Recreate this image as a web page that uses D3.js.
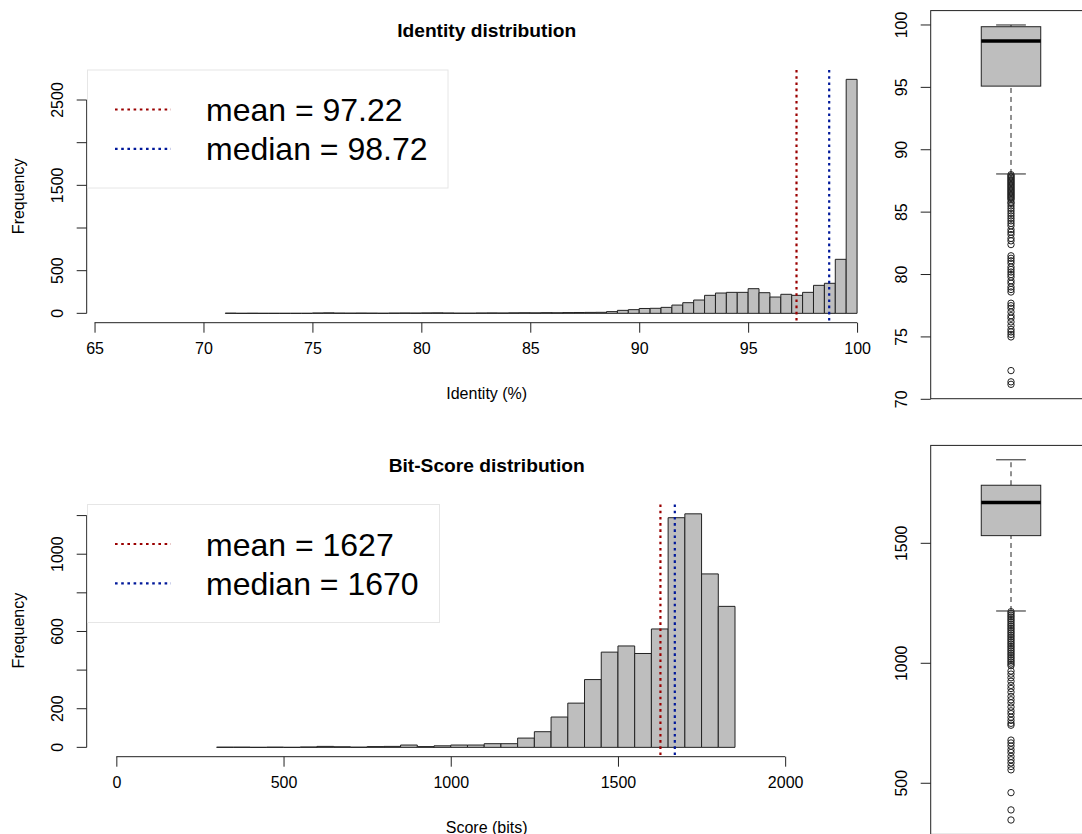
<!DOCTYPE html>
<html>
<head>
<meta charset="utf-8">
<script src="https://cdn.jsdelivr.net/npm/d3@7"></script>
<style>
body { margin: 0; background: #fff; }
svg { display: block; font-family: "Liberation Sans", Arial, Helvetica, sans-serif; }
</style>
</head>
<body>
<svg id="chart" width="1082" height="834"></svg>
<script>
// ---- data ----
// identity (%) histogram, 0.5 wide bins starting at 71
var identityBinStart = 71;
var identityBinWidth = 0.5;
var identityCounts = [2, 0, 1, 0, 0, 0, 0, 0,
    4, 6, 3, 2, 3, 2, 1, 3, 4, 3,
    5, 6, 4, 2, 2, 4, 5, 4, 6, 7,
    6, 8, 7, 9, 10, 11, 12,
    20, 35, 43, 57, 59, 70, 97, 125, 156, 211,
    238, 246, 246, 289, 242, 191, 223, 211, 246, 328,
    352, 633, 2742];
var identityXlim = [66, 100];
var identityXTicks = [65, 70, 75, 80, 85, 90, 95, 100];
var identityYTicks = [0, 500, 1000, 1500, 2000, 2500];
var identityYLabels = ["0", "500", "", "1500", "", "2500"];
var identityMean = 97.22;
var identityMedian = 98.72;
// whisker low, q1, median, q3, whisker high
var identityBox = [88.06, 95.1, 98.72, 99.86, 100];
var identityOutliers = [88.0, 87.9, 87.8, 87.7, 87.6, 87.5, 87.4, 87.3, 87.2, 87.1, 87.0,
    86.9, 86.8, 86.7, 86.6, 86.5, 86.4, 86.3, 86.2, 86.1, 86.0, 85.8, 85.7, 85.5, 85.3,
    85.1, 84.9, 84.7, 84.5, 84.3, 84.1, 83.9, 83.6, 83.4, 83.2, 82.9, 82.7, 82.4,
    81.5, 81.3, 81.1, 80.9, 80.6, 80.4, 80.2, 80.0, 79.8, 79.5, 79.3, 79.0, 78.8, 78.6,
    77.7, 77.5, 77.3, 77.0, 76.7, 76.5, 76.2, 75.9, 75.6, 75.4, 75.2, 75.0,
    72.3, 71.4, 71.2];
var identityBoxTicks = [70, 75, 80, 85, 90, 95, 100];

// bit-score histogram, 50 wide bins starting at 300
var scoreBinStart = 300;
var scoreBinWidth = 50;
var scoreCounts = [1, 1, 0, 1, 0, 2, 5, 3, 1, 4, 5, 12, 4, 8, 12, 12, 19, 19,
    48, 81, 157, 229, 351, 493, 525, 486, 613, 1189, 1209, 898, 730];
var scoreXlim = [0, 2215];
var scoreXTicks = [0, 500, 1000, 1500, 2000];
var scoreYTicks = [0, 200, 400, 600, 800, 1000, 1200];
var scoreYLabels = ["0", "200", "", "600", "", "1000", ""];
var scoreMean = 1627;
var scoreMedian = 1670;
var scoreBox = [1218, 1532, 1670, 1742, 1848];
var scoreOutliers = [1215, 1208, 1200, 1193, 1185, 1178, 1170, 1162, 1155, 1147, 1140,
    1132, 1125, 1117, 1110, 1102, 1095, 1087, 1080, 1072, 1065, 1057, 1050, 1042, 1035,
    1027, 1020, 1012, 1005, 997, 990, 968, 955, 940, 925, 908, 895, 880, 862, 848, 835,
    818, 802, 790, 775, 762, 750, 742, 680, 668, 655, 640, 628, 612, 598, 585, 570, 556,
    461, 389, 347];
var scoreBoxTicks = [500, 1000, 1500];

var meanColor = "#9a0000";
var medianColor = "#00189a";
var barFill = "#bebebe";
var ink = "#222";

// R style 4% range extension
function ext(lim) {
    var d = (lim[1] - lim[0]) * 0.04;
    return [lim[0] - d, lim[1] + d];
}

var svg = d3.select("#chart");
svg.append("rect").attr("width", 1082).attr("height", 834).attr("fill", "#fff");

function drawHist(o) {
    var g = svg.append("g");
    var x = d3.scaleLinear().domain(ext(o.xlim)).range([o.left, o.right]);
    var y = d3.scaleLinear().domain(ext([0, d3.max(o.counts)])).range([o.bottom, o.top]);

    // bars (paths so empty bins still leave a line)
    g.selectAll("path.bar").data(o.counts).enter().append("path")
        .attr("class", "bar")
        .attr("d", function (c, i) {
            var x0 = x(o.binStart + i * o.binWidth), x1 = x(o.binStart + (i + 1) * o.binWidth);
            return "M" + x0 + "," + y(0) + "V" + y(c) + "H" + x1 + "V" + y(0) + "Z";
        })
        .attr("fill", barFill).attr("stroke", ink).attr("stroke-width", 1);

    // x axis
    var xa = g.append("g").attr("transform", "translate(0," + o.bottom + ")")
        .call(d3.axisBottom(x).tickValues(o.xTicks).tickSize(10).tickPadding(10).tickFormat(d3.format("d")));
    xa.select(".domain").remove();
    xa.append("line").attr("x1", x(o.xTicks[0])).attr("x2", x(o.xTicks[o.xTicks.length - 1]))
        .attr("stroke", ink);
    xa.selectAll(".tick line").attr("stroke", ink);
    xa.selectAll(".tick text").attr("font-size", 16).attr("fill", "#000").attr("font-family", null);

    // y axis
    var ya = g.append("g").attr("transform", "translate(" + o.left + ",0)");
    ya.append("line").attr("y1", y(o.yTicks[0])).attr("y2", y(o.yTicks[o.yTicks.length - 1]))
        .attr("stroke", ink);
    ya.selectAll("line.tk").data(o.yTicks).enter().append("line").attr("class", "tk")
        .attr("x1", -10).attr("x2", 0).attr("y1", y).attr("y2", y).attr("stroke", ink);
    ya.selectAll("text").data(o.yTicks).enter().append("text")
        .attr("transform", function (d) { return "translate(-24," + y(d) + ") rotate(-90)"; })
        .attr("text-anchor", "middle").attr("font-size", 16)
        .text(function (d, i) { return o.yLabels[i]; });

    // mean / median lines
    [[o.mean, meanColor], [o.median, medianColor]].forEach(function (m) {
        g.append("line").attr("x1", x(m[0])).attr("x2", x(m[0]))
            .attr("y1", o.top).attr("y2", o.bottom)
            .attr("stroke", m[1]).attr("stroke-width", 2.2).attr("stroke-dasharray", "2.6,3.6");
    });

    // legend
    var lg = g.append("g");
    lg.append("rect").attr("x", o.left + 0.8).attr("y", o.top)
        .attr("width", o.legendWidth).attr("height", 118)
        .attr("fill", "#fff").attr("fill-opacity", 0.6).attr("stroke", "#e6e6e6");
    [[o.legendText[0], meanColor], [o.legendText[1], medianColor]].forEach(function (l, i) {
        var ly = o.top + 39.5 + i * 39.3;
        lg.append("line").attr("x1", 115).attr("x2", 171).attr("y1", ly).attr("y2", ly)
            .attr("stroke", l[1]).attr("stroke-width", 2.2).attr("stroke-dasharray", "2.6,3.6");
        lg.append("text").attr("x", 206).attr("y", ly + 11.5).attr("font-size", 32).text(l[0]);
    });

    // titles
    var cx = (o.left + o.right) / 2;
    g.append("text").attr("x", cx).attr("y", o.titleY).attr("text-anchor", "middle")
        .attr("font-size", 19.2).attr("font-weight", "bold").text(o.title);
    g.append("text").attr("x", cx).attr("y", o.xlabY).attr("text-anchor", "middle")
        .attr("font-size", 16).text(o.xlab);
    g.append("text").attr("transform", "translate(24," + (o.top + o.bottom) / 2 + ") rotate(-90)")
        .attr("text-anchor", "middle").attr("font-size", 16).text("Frequency");
}

function drawBox(o) {
    var g = svg.append("g");
    var all = o.outliers.concat(o.stats);
    var y = d3.scaleLinear().domain(ext(d3.extent(all))).range([o.bottom, o.top]);
    var x = d3.scaleLinear().domain([0.46, 1.54]).range([930.7, 1091.3]);
    var s = o.stats;

    // frame
    g.append("rect").attr("x", x(0.46)).attr("y", o.top).attr("width", x(1.54) - x(0.46))
        .attr("height", o.bottom - o.top).attr("fill", "none").attr("stroke", ink);

    // whiskers
    g.append("line").attr("x1", x(1)).attr("x2", x(1)).attr("y1", y(s[0])).attr("y2", y(s[1]))
        .attr("stroke", ink).attr("stroke-dasharray", "5,4");
    g.append("line").attr("x1", x(1)).attr("x2", x(1)).attr("y1", y(s[3])).attr("y2", y(s[4]))
        .attr("stroke", ink).attr("stroke-dasharray", "5,4");
    [s[0], s[4]].forEach(function (v) {
        g.append("line").attr("x1", x(0.9)).attr("x2", x(1.1)).attr("y1", y(v)).attr("y2", y(v))
            .attr("stroke", ink);
    });
    // box
    g.append("rect").attr("x", x(0.8)).attr("width", x(1.2) - x(0.8))
        .attr("y", y(s[3])).attr("height", y(s[1]) - y(s[3]))
        .attr("fill", barFill).attr("stroke", ink);
    g.append("line").attr("x1", x(0.8)).attr("x2", x(1.2)).attr("y1", y(s[2])).attr("y2", y(s[2]))
        .attr("stroke", "#000").attr("stroke-width", 3.5);

    // outliers
    g.selectAll("circle").data(o.outliers).enter().append("circle")
        .attr("cx", x(1)).attr("cy", y).attr("r", 3.2)
        .attr("fill", "none").attr("stroke", ink).attr("stroke-width", 1);

    // y axis
    g.selectAll("line.tk").data(o.ticks).enter().append("line").attr("class", "tk")
        .attr("x1", x(0.46) - 10).attr("x2", x(0.46)).attr("y1", y).attr("y2", y).attr("stroke", ink);
    g.selectAll("text").data(o.ticks).enter().append("text")
        .attr("transform", function (d) { return "translate(" + (x(0.46) - 23.5) + "," + y(d) + ") rotate(-90)"; })
        .attr("text-anchor", "middle").attr("font-size", 16).text(function (d) { return d; });
}

drawHist({
    counts: identityCounts, binStart: identityBinStart, binWidth: identityBinWidth,
    xlim: identityXlim, xTicks: identityXTicks, yTicks: identityYTicks, yLabels: identityYLabels,
    mean: identityMean, median: identityMedian,
    left: 86.7, right: 886.7, top: 70, bottom: 322.7,
    legendWidth: 360.5, legendText: ["mean = " + identityMean, "median = " + identityMedian],
    title: "Identity distribution", titleY: 37, xlab: "Identity (%)", xlabY: 399
});
drawHist({
    counts: scoreCounts, binStart: scoreBinStart, binWidth: scoreBinWidth,
    xlim: scoreXlim, xTicks: scoreXTicks, yTicks: scoreYTicks, yLabels: scoreYLabels,
    mean: scoreMean, median: scoreMedian,
    left: 86.7, right: 886.7, top: 504.5, bottom: 756.7,
    legendWidth: 352, legendText: ["mean = " + scoreMean, "median = " + scoreMedian],
    title: "Bit-Score distribution", titleY: 472, xlab: "Score (bits)", xlabY: 832.5
});
drawBox({ stats: identityBox, outliers: identityOutliers, ticks: identityBoxTicks, top: 10.6, bottom: 398.7 });
drawBox({ stats: scoreBox, outliers: scoreOutliers, ticks: scoreBoxTicks, top: 445.4, bottom: 834.4 });
</script>
</body>
</html>
